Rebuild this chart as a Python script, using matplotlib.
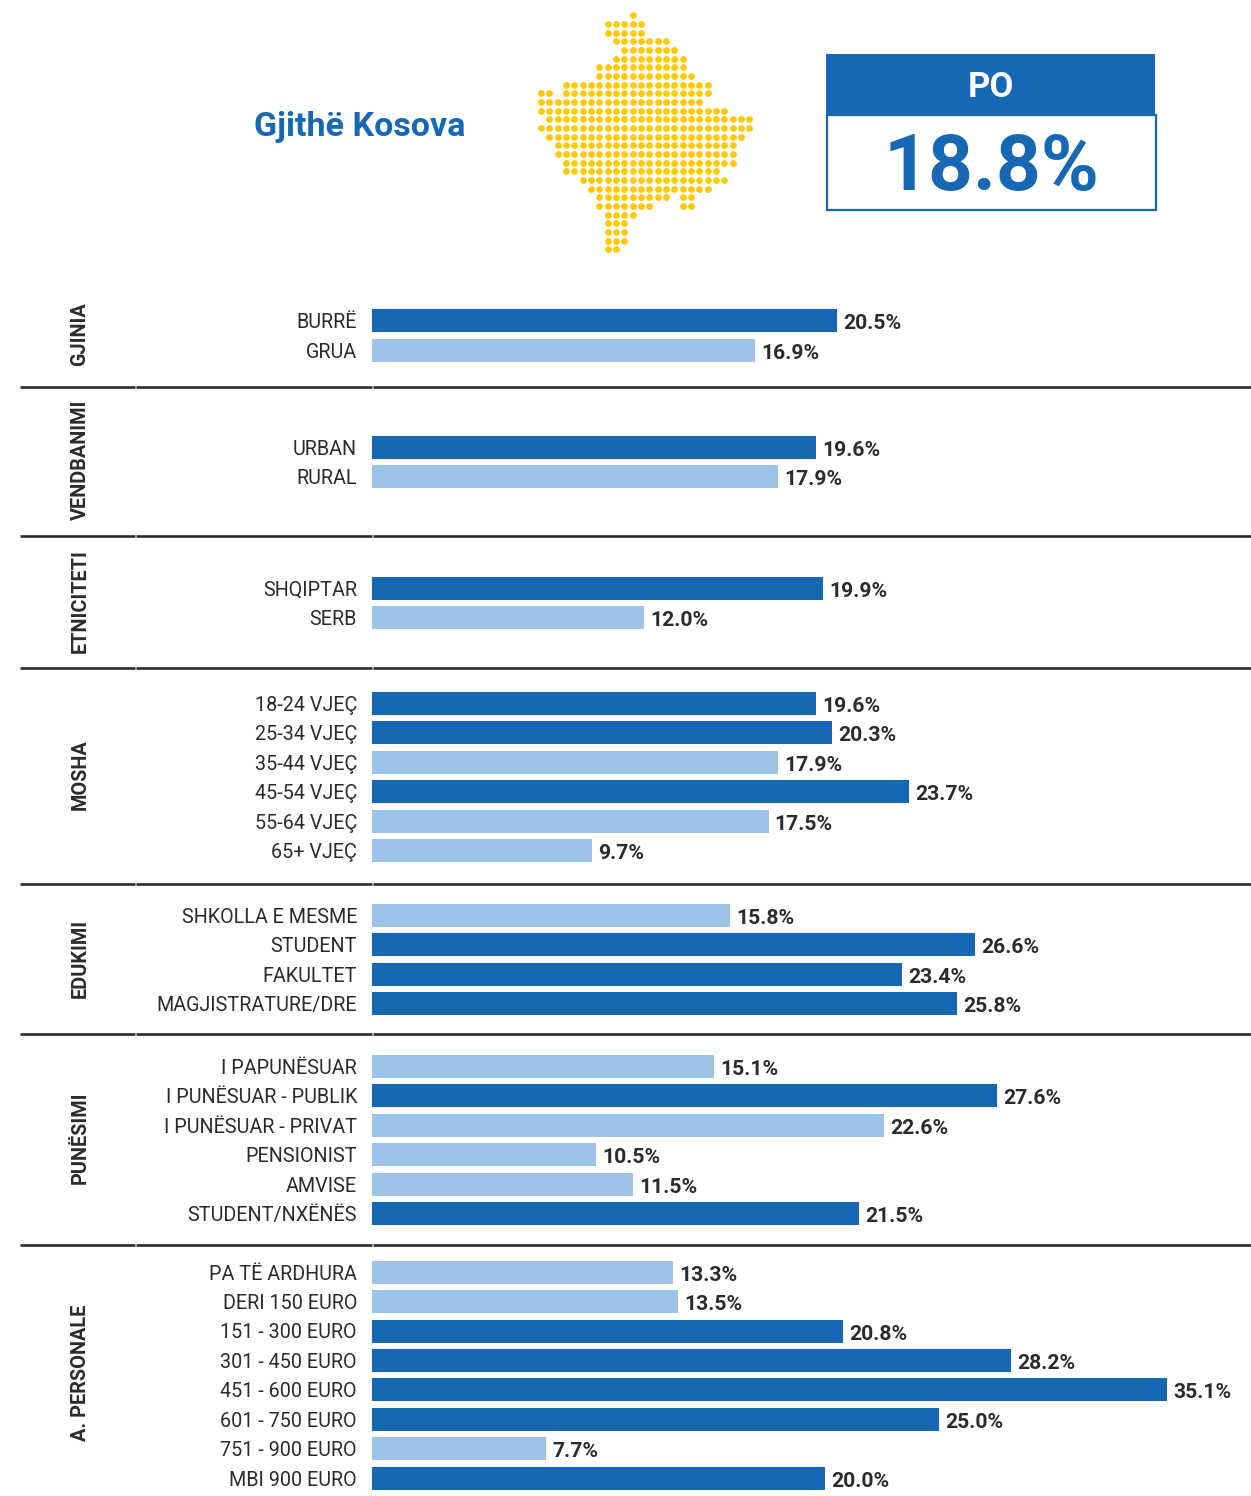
import matplotlib
matplotlib.use("Agg")
import matplotlib.pyplot as plt
from matplotlib.patches import Rectangle

W = 1251
H = 1496
dark = "#1668b4"
light = "#9dc3e8"
ink = "#2b2b2b"
plt.rcParams['font.family'] = ['Roboto', 'DejaVu Sans']

gjinia_lab = ["BURRË", "GRUA"]
gjinia_val = [20.5, 16.9]
gjinia_dark = [1, 0]
vend_lab = ["URBAN", "RURAL"]
vend_val = [19.6, 17.9]
vend_dark = [1, 0]
etni_lab = ["SHQIPTAR", "SERB"]
etni_val = [19.9, 12.0]
etni_dark = [1, 0]
mosha_lab = ["18-24 VJEÇ", "25-34 VJEÇ", "35-44 VJEÇ", "45-54 VJEÇ", "55-64 VJEÇ", "65+ VJEÇ"]
mosha_val = [19.6, 20.3, 17.9, 23.7, 17.5, 9.7]
mosha_dark = [1, 1, 0, 1, 0, 0]
edu_lab = ["SHKOLLA E MESME", "STUDENT", "FAKULTET", "MAGJISTRATURE/DRE"]
edu_val = [15.8, 26.6, 23.4, 25.8]
edu_dark = [0, 1, 1, 1]
pun_lab = ["I PAPUNËSUAR", "I PUNËSUAR - PUBLIK", "I PUNËSUAR - PRIVAT", "PENSIONIST", "AMVISE", "STUDENT/NXËNËS"]
pun_val = [15.1, 27.6, 22.6, 10.5, 11.5, 21.5]
# the PENSIONIST bar is drawn shorter in the original than its label says
pun_len = [15.1, 27.6, 22.6, 9.9, 11.5, 21.5]
pun_dark = [0, 1, 0, 0, 0, 1]
ap_lab = ["PA TË ARDHURA", "DERI 150 EURO", "151 - 300 EURO", "301 - 450 EURO", "451 - 600 EURO",
          "601 - 750 EURO", "751 - 900 EURO", "MBI 900 EURO"]
ap_val = [13.3, 13.5, 20.8, 28.2, 35.1, 25.0, 7.7, 20.0]
ap_dark = [0, 0, 1, 1, 1, 1, 0, 1]

groups = [
    ("GJINIA", gjinia_lab, gjinia_val, gjinia_val, gjinia_dark, 320.8, 334),
    ("VENDBANIMI", vend_lab, vend_val, vend_val, vend_dark, 447.5, 460),
    ("ETNICITETI", etni_lab, etni_val, etni_val, etni_dark, 588.5, 601),
    ("MOSHA", mosha_lab, mosha_val, mosha_val, mosha_dark, 703.5, 775),
    ("EDUKIMI", edu_lab, edu_val, edu_val, edu_dark, 915.5, 958),
    ("PUNËSIMI", pun_lab, pun_val, pun_len, pun_dark, 1066.5, 1138),
    ("A. PERSONALE", ap_lab, ap_val, ap_val, ap_dark, 1272.2, 1373),
]
sep_y = [386.5, 536, 668, 883.5, 1034, 1244.5]

# map of dots: for each row the runs of columns that are filled
map_rows = [
    [(11, 11)], [(8, 12)], [(8, 12)], [(9, 15)], [(10, 16)], [(9, 17)], [(7, 17)],
    [(7, 18)], [(3, 20)], [(0, 1), (3, 20)], [(0, 19)], [(0, 22)], [(1, 25)], [(0, 25)],
    [(1, 24)], [(2, 23)], [(2, 23)], [(3, 23)], [(3, 21)], [(5, 22)], [(6, 20)],
    [(7, 15), (17, 18)], [(7, 13), (17, 18)], [(8, 11)], [(8, 10)], [(8, 10)], [(8, 10)], [(8, 9)],
]

fig = plt.figure(figsize=(W / 100, H / 100), dpi=100)

# background axes in pixels for the header, titles and rules
bg = fig.add_axes([0, 0, 1, 1])
bg.set_xlim(0, W)
bg.set_ylim(H, 0)
bg.axis("off")

mx = []
my = []
for r, runs in enumerate(map_rows):
    for a, b in runs:
        for c in range(a, b + 1):
            mx.append(541 + c * 8.333)
            my.append(15.3 + r * 8.667)
bg.scatter(mx, my, s=24, color="#ffc90a", linewidths=0)

bg.text(360, 127, "Gjithë Kosova", color=dark, fontsize=24.5, fontweight="bold", ha="center", va="center")
bg.add_patch(Rectangle((826, 54), 329, 60, facecolor=dark, edgecolor="none"))
bg.add_patch(Rectangle((826.5, 114.5), 329, 95, facecolor="white", edgecolor=dark, linewidth=1.6))
bg.text(991, 87, "PO", color="white", fontsize=25, fontweight="bold", ha="center", va="center")
bg.text(991, 169, "18.8%", color=dark, fontsize=56.5, fontweight="bold", ha="center", va="center")

for y in sep_y:
    for x0, x1 in [(20, 135), (135.5, 372), (372.5, W)]:
        bg.plot([x0, x1], [y, y], color=ink, lw=1.9, solid_capstyle="butt")

px_per_pct = 22.66
pitch = 29.4
for name, labs, vals, lens, shade, first_y, title_y in groups:
    n = len(vals)
    top = first_y - pitch / 2
    ax = fig.add_axes([372 / W, 1 - (top + n * pitch) / H, (W - 372) / W, n * pitch / H])
    ax.patch.set_visible(False)
    cols = [dark if s else light for s in shade]
    ax.barh(range(n), lens, height=23 / pitch, color=cols)
    ax.set_xlim(0, (W - 372) / px_per_pct)
    ax.set_ylim(n - 0.5, -0.5)
    ax.set_yticks(range(n))
    ax.set_yticklabels(labs, fontsize=14.2, color=ink)
    ax.tick_params(axis="y", length=0, pad=10.8)
    ax.set_xticks([])
    for s in ax.spines.values():
        s.set_visible(False)
    for i, v in enumerate(vals):
        ax.annotate("%.1f%%" % v, (lens[i], i), xytext=(4.5, -2.2), textcoords="offset points",
                    va="center", ha="left", fontsize=15.2, fontweight="bold", color=ink)
    bg.text(80, title_y, name, rotation=90, fontsize=14.3, fontweight="bold", color=ink,
            ha="center", va="center")

fig.savefig("out.png", dpi=100)
